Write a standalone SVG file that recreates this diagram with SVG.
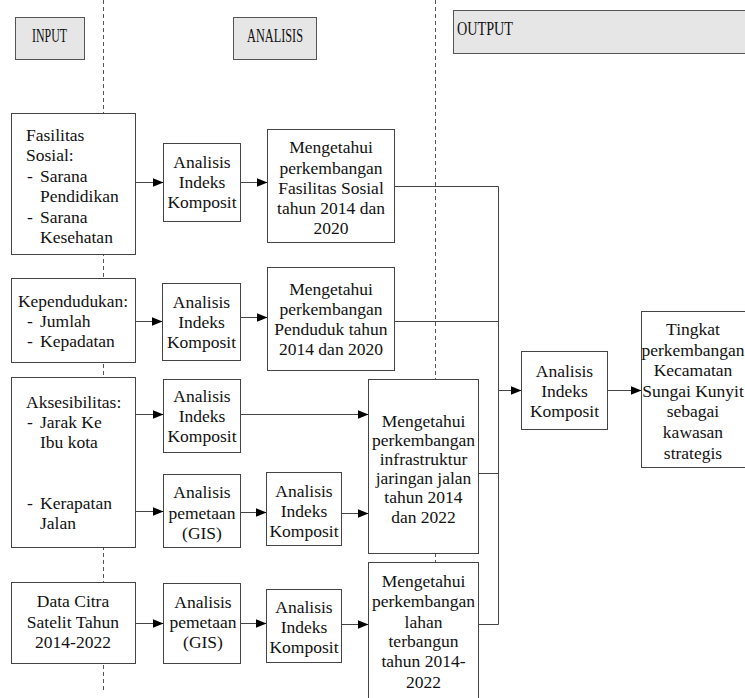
<svg xmlns="http://www.w3.org/2000/svg" width="745" height="698" viewBox="0 0 745 698">
<style>
.bx{fill:#fff;stroke:#444;stroke-width:1}
.hd{fill:#e6e6e6;stroke:#555;stroke-width:1}
text{font-family:'Liberation Serif','Times New Roman',serif;font-size:17.5px;fill:#111}
.c{text-anchor:middle}
.h{font-size:19px}
.ln{fill:none;stroke:#444;stroke-width:1}
.ar{fill:none;stroke:#444;stroke-width:1;marker-end:url(#ah)}
.dash{stroke:#555;stroke-width:1;stroke-dasharray:4,3}
</style>
<defs>
<marker id="ah" markerWidth="11" markerHeight="9" refX="11" refY="4.5" orient="auto" markerUnits="userSpaceOnUse">
<path d="M0,0 L11,4.5 L0,9 Z" fill="#000"/>
</marker>
</defs>
<rect width="745" height="698" fill="#fff"/>
<line class="dash" x1="103.5" y1="0" x2="103.5" y2="690"/>
<line class="dash" x1="435.5" y1="0" x2="435.5" y2="698"/>

<g id="h-input"><rect class="hd" x="15.5" y="17.5" width="69" height="42"/><text class="h" x="32" y="42" textLength="35" lengthAdjust="spacingAndGlyphs">INPUT</text></g>
<g id="h-analisis"><rect class="hd" x="233.5" y="17.5" width="83" height="42"/><text class="h" x="247" y="42" textLength="56" lengthAdjust="spacingAndGlyphs">ANALISIS</text></g>
<g id="h-output"><rect class="hd" x="453.5" y="10.5" width="300" height="43"/><text class="h" x="457" y="35" textLength="56" lengthAdjust="spacingAndGlyphs" style="font-size:18px">OUTPUT</text></g>

<g id="in-fasilitas"><rect class="bx" x="11.5" y="113.5" width="124" height="141"/>
<text x="26" y="141">Fasilitas</text><text x="26" y="161">Sosial:</text>
<text x="27" y="182">-</text><text x="40" y="182">Sarana</text><text x="40" y="202">Pendidikan</text>
<text x="27" y="223">-</text><text x="40" y="223">Sarana</text><text x="40" y="243">Kesehatan</text></g>

<g id="in-kependudukan"><rect class="bx" x="11.5" y="278.5" width="124" height="84"/>
<text x="18" y="307" textLength="110" lengthAdjust="spacingAndGlyphs">Kependudukan:</text>
<text x="27" y="327">-</text><text x="40" y="327">Jumlah</text>
<text x="27" y="347">-</text><text x="40" y="347">Kepadatan</text></g>

<g id="in-aksesibilitas"><rect class="bx" x="11.5" y="377.5" width="124" height="170"/>
<text x="26" y="408">Aksesibilitas:</text>
<text x="27" y="428">-</text><text x="40" y="428">Jarak Ke</text><text x="40" y="448">Ibu kota</text>
<text x="27" y="509">-</text><text x="40" y="509">Kerapatan</text><text x="40" y="529">Jalan</text></g>

<g id="in-citra"><rect class="bx" x="11.5" y="582.5" width="124" height="81"/>
<text class="c" x="73" y="607">Data Citra</text><text class="c" x="73" y="628">Satelit Tahun</text><text class="c" x="73" y="648">2014-2022</text></g>

<g id="aik1"><rect class="bx" x="163.5" y="143.5" width="77" height="78"/>
<text class="c" x="202" y="168">Analisis</text><text class="c" x="202" y="188">Indeks</text><text class="c" x="202" y="208">Komposit</text></g>

<g id="aik2"><rect class="bx" x="162.5" y="283.5" width="78" height="77"/>
<text class="c" x="201.5" y="308">Analisis</text><text class="c" x="201.5" y="328">Indeks</text><text class="c" x="201.5" y="348">Komposit</text></g>

<g id="aik3"><rect class="bx" x="163.5" y="379.5" width="77" height="73"/>
<text class="c" x="202" y="402">Analisis</text><text class="c" x="202" y="422">Indeks</text><text class="c" x="202" y="442">Komposit</text></g>

<g id="gis1"><rect class="bx" x="163.5" y="474.5" width="77" height="73"/>
<text class="c" x="202" y="498">Analisis</text><text class="c" x="202" y="519">pemetaan</text><text class="c" x="202" y="539">(GIS)</text></g>

<g id="aik4"><rect class="bx" x="266.5" y="472.5" width="75" height="73"/>
<text class="c" x="304" y="497">Analisis</text><text class="c" x="304" y="517">Indeks</text><text class="c" x="304" y="537">Komposit</text></g>

<g id="gis2"><rect class="bx" x="163.5" y="583.5" width="77" height="80"/>
<text class="c" x="203" y="608">Analisis</text><text class="c" x="203" y="628">pemetaan</text><text class="c" x="203" y="648">(GIS)</text></g>

<g id="aik5"><rect class="bx" x="266.5" y="589.5" width="75" height="73"/>
<text class="c" x="304" y="613">Analisis</text><text class="c" x="304" y="633">Indeks</text><text class="c" x="304" y="653">Komposit</text></g>

<g id="m-fasilitas"><rect class="bx" x="267.5" y="129.5" width="127" height="113"/>
<text class="c" x="331" y="153">Mengetahui</text><text class="c" x="331" y="174">perkembangan</text><text class="c" x="331" y="194">Fasilitas Sosial</text><text class="c" x="331" y="214">tahun 2014 dan</text><text class="c" x="331" y="234">2020</text></g>

<g id="m-penduduk"><rect class="bx" x="267.5" y="267.5" width="127" height="103"/>
<text class="c" x="331" y="295">Mengetahui</text><text class="c" x="331" y="315">perkembangan</text><text class="c" x="331" y="335">Penduduk tahun</text><text class="c" x="331" y="355">2014 dan 2020</text></g>

<g id="m-infra"><rect class="bx" x="368.5" y="379.5" width="110" height="174"/>
<text class="c" x="423.5" y="427">Mengetahui</text><text class="c" x="423.5" y="446">perkembangan</text><text class="c" x="423.5" y="465">infrastruktur</text><text class="c" x="423.5" y="484">jaringan jalan</text><text class="c" x="423.5" y="503">tahun 2014</text><text class="c" x="423.5" y="523">dan 2022</text></g>

<g id="m-lahan"><rect class="bx" x="368.5" y="562.5" width="110" height="140"/>
<text class="c" x="423.5" y="587">Mengetahui</text><text class="c" x="423.5" y="607">perkembangan</text><text class="c" x="423.5" y="628">lahan</text><text class="c" x="423.5" y="647">terbangun</text><text class="c" x="423.5" y="667">tahun 2014-</text><text class="c" x="423.5" y="688">2022</text></g>

<g id="aik-final"><rect class="bx" x="521.5" y="351.5" width="86" height="78"/>
<text class="c" x="564.5" y="377">Analisis</text><text class="c" x="564.5" y="397">Indeks</text><text class="c" x="564.5" y="417">Komposit</text></g>

<g id="out-tingkat"><rect class="bx" x="641.5" y="311.5" width="110" height="156"/>
<text class="c" x="693" y="335">Tingkat</text><text class="c" x="693" y="356">perkembangan</text><text class="c" x="693" y="376">Kecamatan</text><text class="c" x="693" y="397">Sungai Kunyit</text><text class="c" x="693" y="417">sebagai</text><text class="c" x="693" y="438">kawasan</text><text class="c" x="693" y="459">strategis</text></g>

<g id="connectors">
<line class="ar" x1="135.5" y1="182.5" x2="163.5" y2="182.5"/>
<line class="ar" x1="240.5" y1="182.5" x2="267.5" y2="182.5"/>
<line class="ar" x1="135.5" y1="321.5" x2="162.5" y2="321.5"/>
<line class="ar" x1="240.5" y1="317.5" x2="267.5" y2="317.5"/>
<line class="ar" x1="135.5" y1="414.5" x2="163.5" y2="414.5"/>
<line class="ar" x1="240.5" y1="414.5" x2="368.5" y2="414.5"/>
<line class="ar" x1="135.5" y1="511.5" x2="163.5" y2="511.5"/>
<line class="ar" x1="240.5" y1="512.5" x2="266.5" y2="512.5"/>
<line class="ar" x1="341.5" y1="513.5" x2="368.5" y2="513.5"/>
<line class="ar" x1="135.5" y1="623.5" x2="163.5" y2="623.5"/>
<line class="ar" x1="240.5" y1="623.5" x2="266.5" y2="623.5"/>
<line class="ar" x1="341.5" y1="624.5" x2="368.5" y2="624.5"/>
<polyline class="ln" points="394.5,186.5 498.5,186.5 498.5,624.5 478.5,624.5"/>
<line class="ln" x1="394.5" y1="321.5" x2="498.5" y2="321.5"/>
<line class="ln" x1="478.5" y1="473.5" x2="498.5" y2="473.5"/>
<line class="ar" x1="498.5" y1="390.5" x2="521.5" y2="390.5"/>
<line class="ar" x1="607.5" y1="390.5" x2="641.5" y2="390.5"/>
</g>
</svg>
